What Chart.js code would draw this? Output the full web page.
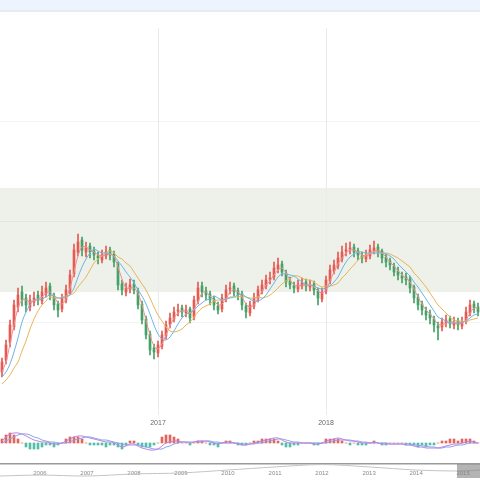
<!DOCTYPE html>
<html>
<head>
<meta charset="utf-8">
<script src="https://cdn.jsdelivr.net/npm/chart.js@4.4.1/dist/chart.umd.min.js"></script>
<style>
	html, body { margin: 0; padding: 0; background: #fff; }
	body { width: 480px; height: 480px; position: relative; overflow: hidden; font-family: "Liberation Sans", Arial, sans-serif; }
	.topbar { position: absolute; left: 0; top: 0; width: 480px; height: 10px; background: #eef4fd; border-bottom: 2px solid #e4ebf4; }
	.box { position: absolute; left: 0; width: 480px; }
	#mainBox { top: 20px; height: 410px; }
	#macdBox { top: 428px; height: 24px; }
	#navBox { top: 462px; height: 18px; }
</style>
</head>
<body>
<div class="topbar"></div>
<div class="box" id="mainBox"><canvas id="priceCanvas"></canvas></div>
<div class="box" id="macdBox"><canvas id="macdCanvas"></canvas></div>
<div class="box" id="navBox"><canvas id="navCanvas"></canvas></div>
<script>
// candles
const opens = [9.50,9.62,9.80,9.95,10.15,10.30,10.24,10.15,10.20,10.27,
	10.21,10.28,10.36,10.26,10.18,10.13,10.22,10.30,10.48,10.70,
	10.82,10.70,10.76,10.71,10.66,10.62,10.66,10.72,10.68,10.58,
	10.38,10.30,10.33,10.38,10.31,10.18,10.03,9.88,9.74,9.69,
	9.76,9.86,9.98,10.03,10.11,10.14,10.09,10.13,10.05,10.21,
	10.36,10.31,10.28,10.23,10.16,10.13,10.23,10.33,10.36,10.31,
	10.28,10.16,10.09,10.16,10.23,10.31,10.36,10.43,10.45,10.53,
	10.58,10.49,10.41,10.36,10.33,10.36,10.40,10.35,10.38,10.31,
	10.23,10.31,10.41,10.51,10.56,10.63,10.71,10.73,10.75,10.71,
	10.66,10.63,10.66,10.71,10.75,10.71,10.65,10.61,10.56,10.51,
	10.46,10.45,10.43,10.35,10.25,10.18,10.11,10.08,10.03,9.96,
	9.95,9.99,10.03,9.97,10.01,9.96,10.01,10.09,10.18,10.15];
const closes = [9.60,9.77,9.97,10.17,10.27,10.22,10.17,10.22,10.24,10.22,
	10.30,10.34,10.27,10.17,10.12,10.24,10.32,10.47,10.72,10.80,
	10.72,10.74,10.70,10.67,10.64,10.67,10.70,10.67,10.60,10.37,
	10.32,10.34,10.37,10.32,10.17,10.02,9.87,9.72,9.70,9.77,
	9.87,9.97,10.04,10.10,10.12,10.10,10.12,10.04,10.22,10.34,
	10.30,10.27,10.22,10.17,10.12,10.24,10.32,10.34,10.30,10.27,
	10.17,10.10,10.17,10.24,10.32,10.37,10.42,10.44,10.54,10.57,
	10.50,10.40,10.37,10.34,10.37,10.39,10.36,10.37,10.32,10.24,
	10.30,10.42,10.52,10.57,10.64,10.70,10.72,10.74,10.70,10.67,
	10.64,10.67,10.72,10.74,10.70,10.64,10.60,10.57,10.50,10.47,
	10.44,10.42,10.34,10.24,10.17,10.12,10.07,10.04,9.97,9.94,
	10.00,10.02,9.98,10.00,9.97,10.00,10.10,10.17,10.14,10.10];
const highs = [9.64,9.82,10.02,10.22,10.34,10.36,10.28,10.27,10.30,10.31,
	10.36,10.40,10.39,10.29,10.21,10.28,10.37,10.52,10.78,10.88,
	10.85,10.80,10.79,10.75,10.70,10.72,10.76,10.75,10.71,10.60,
	10.42,10.39,10.43,10.42,10.34,10.21,10.06,9.91,9.78,9.81,
	9.91,10.01,10.09,10.15,10.18,10.17,10.17,10.15,10.26,10.40,
	10.40,10.35,10.31,10.26,10.20,10.28,10.37,10.40,10.39,10.34,
	10.31,10.19,10.21,10.29,10.36,10.42,10.47,10.50,10.60,10.64,
	10.61,10.52,10.45,10.40,10.42,10.44,10.43,10.42,10.41,10.34,
	10.34,10.46,10.57,10.62,10.70,10.76,10.79,10.80,10.78,10.74,
	10.70,10.72,10.77,10.81,10.78,10.73,10.68,10.64,10.59,10.55,
	10.50,10.49,10.46,10.37,10.28,10.21,10.15,10.12,10.06,10.00,
	10.04,10.07,10.06,10.05,10.04,10.05,10.15,10.22,10.21,10.19];
const lows = [9.45,9.58,9.75,9.92,10.10,10.16,10.10,10.11,10.16,10.17,
	10.18,10.25,10.22,10.12,10.05,10.10,10.19,10.28,10.45,10.66,
	10.66,10.65,10.64,10.62,10.58,10.59,10.63,10.62,10.55,10.32,
	10.27,10.26,10.29,10.28,10.13,9.98,9.83,9.67,9.63,9.65,
	9.73,9.83,9.94,10.00,10.06,10.05,10.05,9.99,10.02,10.18,
	10.25,10.22,10.17,10.12,10.08,10.10,10.20,10.28,10.26,10.22,
	10.12,10.04,10.06,10.13,10.20,10.28,10.33,10.38,10.42,10.49,
	10.46,10.35,10.33,10.29,10.30,10.33,10.31,10.31,10.27,10.17,
	10.20,10.28,10.38,10.48,10.53,10.60,10.66,10.68,10.65,10.62,
	10.59,10.60,10.63,10.68,10.65,10.59,10.55,10.52,10.46,10.42,
	10.39,10.37,10.29,10.19,10.12,10.07,10.02,9.98,9.90,9.82,
	9.91,9.95,9.94,9.93,9.92,9.93,9.98,10.06,10.09,10.06];

// moving averages
const maShort = [9.50,9.60,9.78,9.97,10.14,10.22,10.22,10.20,10.21,10.23,
	10.25,10.29,10.30,10.26,10.19,10.18,10.23,10.34,10.50,10.66,
	10.75,10.75,10.72,10.70,10.67,10.66,10.67,10.68,10.66,10.55,
	10.43,10.34,10.34,10.34,10.29,10.17,10.02,9.87,9.76,9.73,
	9.78,9.87,9.96,10.04,10.09,10.11,10.11,10.09,10.13,10.20,
	10.29,10.30,10.26,10.22,10.17,10.18,10.23,10.30,10.32,10.30,
	10.25,10.18,10.15,10.17,10.24,10.31,10.37,10.41,10.47,10.52,
	10.54,10.49,10.42,10.37,10.36,10.37,10.37,10.37,10.35,10.31,
	10.29,10.32,10.41,10.50,10.58,10.64,10.69,10.72,10.72,10.70,
	10.67,10.66,10.68,10.71,10.72,10.69,10.65,10.60,10.56,10.51,
	10.47,10.44,10.40,10.33,10.25,10.18,10.12,10.08,10.03,9.98,
	9.97,9.99,10.00,10.00,9.98,9.99,10.02,10.09,10.14,10.14];
const maMid = [9.45,9.50,9.58,9.70,9.84,10.00,10.10,10.17,10.22,10.22,
	10.23,10.25,10.27,10.26,10.24,10.24,10.25,10.27,10.34,10.45,
	10.55,10.63,10.69,10.73,10.71,10.69,10.69,10.68,10.66,10.61,
	10.56,10.50,10.45,10.39,10.32,10.26,10.18,10.08,9.97,9.88,
	9.83,9.82,9.85,9.91,9.98,10.04,10.08,10.09,10.12,10.16,
	10.19,10.22,10.23,10.26,10.24,10.22,10.23,10.24,10.25,10.27,
	10.28,10.25,10.23,10.21,10.21,10.23,10.27,10.33,10.39,10.45,
	10.48,10.48,10.47,10.46,10.43,10.40,10.37,10.37,10.36,10.34,
	10.33,10.34,10.36,10.40,10.45,10.53,10.60,10.65,10.68,10.70,
	10.70,10.69,10.69,10.69,10.69,10.69,10.68,10.66,10.63,10.58,
	10.54,10.50,10.46,10.40,10.35,10.29,10.23,10.17,10.11,10.05,
	10.03,10.01,9.99,9.99,9.99,10.00,10.01,10.04,10.07,10.08];
const maLong = [9.38,9.42,9.47,9.54,9.60,9.71,9.81,9.93,10.03,10.11,
	10.17,10.21,10.25,10.24,10.24,10.25,10.26,10.27,10.29,10.35,
	10.40,10.45,10.52,10.59,10.63,10.66,10.69,10.71,10.69,10.65,
	10.63,10.59,10.56,10.50,10.44,10.38,10.32,10.24,10.15,10.07,
	10.01,9.95,9.91,9.90,9.91,9.93,9.97,10.00,10.05,10.10,
	10.14,10.16,10.18,10.21,10.22,10.22,10.23,10.25,10.25,10.25,
	10.26,10.25,10.24,10.24,10.25,10.24,10.25,10.27,10.30,10.34,
	10.38,10.41,10.43,10.46,10.46,10.44,10.42,10.42,10.40,10.37,
	10.35,10.36,10.36,10.37,10.39,10.44,10.48,10.53,10.57,10.62,
	10.65,10.67,10.69,10.70,10.70,10.69,10.69,10.68,10.66,10.64,
	10.61,10.58,10.55,10.49,10.45,10.40,10.35,10.29,10.23,10.17,
	10.13,10.09,10.05,10.02,10.01,10.01,10.00,10.02,10.03,10.04];

// MACD panel
const macdDif = [0.02,0.06,0.09,0.10,0.10,0.09,0.07,0.05,0.03,0.02,
	0.01,0.01,0.00,-0.01,-0.01,0.00,0.02,0.04,0.06,0.07,
	0.07,0.06,0.05,0.04,0.03,0.02,0.01,0.01,0.00,-0.02,
	-0.04,-0.03,-0.01,-0.01,-0.03,-0.05,-0.06,-0.07,-0.07,-0.06,
	-0.03,0.00,0.01,0.02,0.02,0.01,0.01,0.00,0.01,0.02,
	0.02,0.02,0.01,0.00,-0.01,0.00,0.01,0.01,0.00,-0.01,
	-0.02,-0.02,-0.01,0.00,0.01,0.02,0.03,0.04,0.05,0.05,
	0.03,0.01,0.00,0.00,0.00,0.00,0.00,0.00,-0.01,-0.01,
	0.00,0.02,0.03,0.04,0.05,0.04,0.03,0.02,0.02,0.01,
	0.00,0.00,0.00,0.01,0.00,-0.01,-0.01,-0.01,-0.01,-0.01,
	-0.01,-0.02,-0.02,-0.03,-0.04,-0.04,-0.05,-0.05,-0.05,-0.05,
	-0.04,-0.03,-0.02,-0.01,-0.01,0.00,0.01,0.02,0.01,0.00];
const macdDea = [0.00,0.02,0.04,0.06,0.08,0.09,0.09,0.08,0.06,0.05,
	0.03,0.02,0.01,0.01,0.00,0.00,0.00,0.01,0.03,0.04,
	0.05,0.06,0.06,0.05,0.04,0.03,0.03,0.02,0.01,0.00,
	-0.01,-0.02,-0.02,-0.02,-0.02,-0.03,-0.04,-0.05,-0.06,-0.06,
	-0.06,-0.04,-0.03,-0.01,0.00,0.01,0.01,0.01,0.01,0.01,
	0.01,0.02,0.02,0.01,0.01,0.00,0.00,0.00,0.00,0.00,
	-0.01,-0.01,-0.01,-0.01,0.00,0.00,0.01,0.02,0.03,0.04,
	0.04,0.03,0.02,0.01,0.01,0.00,0.00,0.00,0.00,0.00,
	0.00,0.00,0.01,0.02,0.03,0.03,0.03,0.03,0.02,0.02,
	0.01,0.01,0.00,0.00,0.00,0.00,0.00,-0.01,-0.01,-0.01,
	-0.01,-0.01,-0.01,-0.02,-0.02,-0.03,-0.03,-0.04,-0.04,-0.05,
	-0.05,-0.04,-0.04,-0.03,-0.02,-0.02,-0.01,0.00,0.00,0.00];
const macdHist = [0.04,0.08,0.10,0.08,0.04,0.00,-0.04,-0.06,-0.06,-0.06,
	-0.04,-0.02,-0.02,-0.04,-0.02,0.00,0.04,0.06,0.06,0.06,
	0.04,0.00,-0.02,-0.02,-0.02,-0.02,-0.04,-0.02,-0.02,-0.04,
	-0.06,-0.02,0.02,0.02,-0.02,-0.04,-0.04,-0.04,-0.02,0.00,
	0.06,0.08,0.08,0.06,0.04,0.00,0.00,-0.02,0.00,0.02,
	0.02,0.00,-0.02,-0.02,-0.04,0.00,0.02,0.02,0.00,-0.02,
	-0.02,-0.02,0.00,0.02,0.02,0.04,0.04,0.04,0.04,0.02,
	-0.02,-0.04,-0.04,-0.02,-0.02,0.00,0.00,0.00,-0.02,-0.02,
	0.00,0.04,0.04,0.04,0.04,0.02,0.00,-0.02,0.00,-0.02,
	-0.02,-0.02,0.00,0.02,0.00,-0.02,-0.02,0.00,0.00,0.00,
	0.00,-0.02,-0.02,-0.02,-0.04,-0.02,-0.04,-0.02,-0.02,0.00,
	0.02,0.02,0.04,0.04,0.02,0.04,0.04,0.04,0.02,0.00];

// axis ticks
const yearTickIndex = [39, 81];
const yearTickText = ['2017', '2018'];
const gridPrices = [10, 11, 12];
const bandPrices = [10.30, 11.34];

// navigator (whole history)
const navYears = [2005.15, 2006, 2007, 2008, 2009, 2010, 2011, 2012, 2013, 2014, 2014.9, 2015.36];
const navValues = [1.4, 2.1, 1.4, 2.9, 3.6, 5.7, 7.9, 9.6, 7.9, 5.7, 5.0, 5.7];
const navYearTicks = [2006, 2007, 2008, 2009, 2010, 2011, 2012, 2013, 2014, 2015];
const navSelection = [2014.87, 2015.36];

const UP = '#e65a52', DOWN = '#45a165';
const candleLabels = closes.map((c, i) => String(i));
const candleColors = closes.map((c, i) => c >= opens[i] ? UP : DOWN);

const bandPlugin = {
	id: 'band',
	beforeDraw(chart) {
		const {ctx, scales: {y}} = chart;
		const top = y.getPixelForValue(bandPrices[1]);
		const bottom = y.getPixelForValue(bandPrices[0]);
		ctx.save();
		ctx.fillStyle = '#eef0ea';
		ctx.fillRect(0, top, chart.width, bottom - top);
		ctx.restore();
	}
};

function maLine(data, color) {
	return {type: 'line', data: data, borderColor: color, borderWidth: 1, pointRadius: 0, tension: 0.3, order: 0};
}

new Chart(document.getElementById('priceCanvas'), {
	type: 'bar',
	data: {
		labels: candleLabels,
		datasets: [
			maLine(maShort, '#ef8f93'),
			maLine(maMid, '#6ab7e6'),
			maLine(maLong, '#e8b657'),
			{
				data: opens.map((o, i) => [o, closes[i]]),
				backgroundColor: candleColors,
				barThickness: 2,
				minBarLength: 1,
				grouped: false,
				order: 1
			},
			{
				data: lows.map((l, i) => [l, highs[i]]),
				backgroundColor: candleColors,
				barThickness: 1,
				grouped: false,
				order: 2
			}
		]
	},
	options: {
		responsive: true,
		maintainAspectRatio: false,
		animation: false,
		layout: {padding: {top: 8, left: 0, right: 0, bottom: 0}},
		plugins: {legend: {display: false}, tooltip: {enabled: false}},
		scales: {
			x: {
				offset: true,
				grid: {offset: false, color: '#ebebeb', drawTicks: false},
				border: {display: false},
				afterBuildTicks: s => { s.ticks = yearTickIndex.map(v => ({value: v})); },
				afterFit: s => { s.height = 15; },
				ticks: {
					autoSkip: false, maxRotation: 0, padding: 4, color: '#666',
					font: {size: 7, family: 'Liberation Sans'},
					callback: v => yearTickText[yearTickIndex.indexOf(v)]
				}
			},
			y: {
				min: 9.07,
				max: 12.94,
				afterBuildTicks: s => { s.ticks = gridPrices.map(v => ({value: v})); },
				afterFit: s => { s.width = 0; },
				ticks: {display: false},
				border: {display: false},
				grid: {color: 'rgba(0,0,0,0.045)', drawTicks: false}
			}
		}
	},
	plugins: [bandPlugin]
});

new Chart(document.getElementById('macdCanvas'), {
	type: 'bar',
	data: {
		labels: candleLabels,
		datasets: [
			{type: 'line', data: macdDif, borderColor: '#bd84e4', borderWidth: 1, pointRadius: 0, tension: 0.4, order: 0},
			{type: 'line', data: macdDea, borderColor: '#8aa6ea', borderWidth: 1, pointRadius: 0, tension: 0.4, order: 0},
			{
				data: macdHist,
				backgroundColor: macdHist.map(v => v >= 0 ? '#e2645a' : '#52bea8'),
				barThickness: 2,
				order: 1
			}
		]
	},
	options: {
		responsive: true,
		maintainAspectRatio: false,
		animation: false,
		layout: {padding: 0},
		plugins: {legend: {display: false}, tooltip: {enabled: false}},
		scales: {
			x: {display: false, offset: true},
			y: {display: false, min: -0.09, max: 0.15}
		}
	}
});

const navSelectPlugin = {
	id: 'navSelect',
	afterDraw(chart) {
		const {ctx, scales: {x}} = chart;
		const left = x.getPixelForValue(navSelection[0]);
		const right = x.getPixelForValue(navSelection[1]);
		ctx.save();
		ctx.fillStyle = 'rgba(130,130,130,0.6)';
		ctx.fillRect(left, 2, right - left, chart.height - 4);
		ctx.restore();
	}
};

new Chart(document.getElementById('navCanvas'), {
	type: 'line',
	data: {
		datasets: [{
			data: navYears.map((yr, i) => ({x: yr, y: navValues[i]})),
			borderColor: '#c4c4c4',
			borderWidth: 1,
			pointRadius: 0,
			tension: 0.3,
			clip: false
		}]
	},
	options: {
		responsive: true,
		maintainAspectRatio: false,
		animation: false,
		layout: {padding: {top: 2, left: 0, right: 0, bottom: 0}},
		plugins: {legend: {display: false}, tooltip: {enabled: false}},
		scales: {
			x: {
				type: 'linear',
				min: navSelection[1] - 10.21,
				max: navSelection[1],
				afterBuildTicks: s => { s.ticks = navYearTicks.map(v => ({value: v})); },
				afterFit: s => { s.height = 12; },
				grid: {display: false},
				border: {display: false},
				ticks: {padding: -6, autoSkip: false, maxRotation: 0, color: '#8a8a8a', font: {size: 6, family: 'Liberation Sans'}, callback: v => String(v)}
			},
			y: {
				min: 7.14,
				max: 10,
				afterBuildTicks: s => { s.ticks = [{value: 10}]; },
				afterFit: s => { s.width = 0; },
				ticks: {display: false},
				border: {display: false},
				grid: {color: '#9a9a9a', lineWidth: 1.5, drawTicks: false}
			}
		}
	},
	plugins: [navSelectPlugin]
});
</script>
</body>
</html>
